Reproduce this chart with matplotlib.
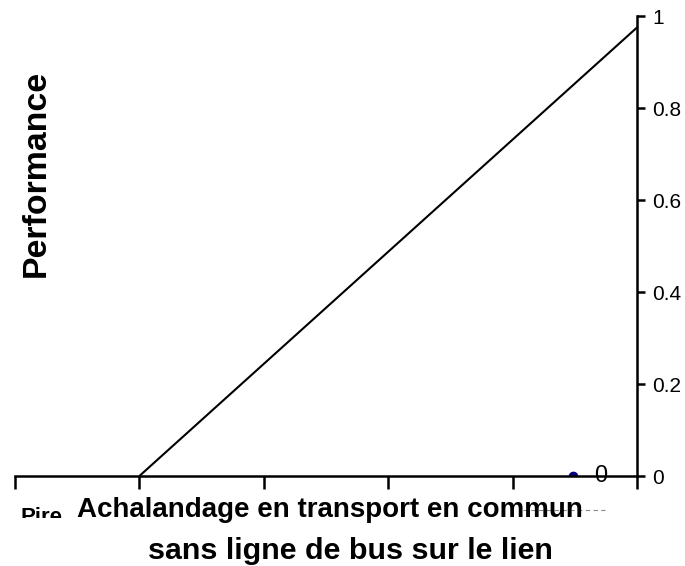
import matplotlib
matplotlib.use("Agg")
import matplotlib.pyplot as plt
from matplotlib.transforms import Bbox, TransformedBbox

# performance curve of the criterion
x_curve = [1, 5]
y_curve = [0, 0.975]

# isolated point shown on the axis
x_point = [4.485]
y_point = [0]
point_label = "0"

yticks = [0, 0.2, 0.4, 0.6, 0.8, 1]
ytick_labels = ["0", "0.2", "0.4", "0.6", "0.8", "1"]
xticks = [0, 1, 2, 3, 4, 5]

title_lines = ["Achalandage en transport en commun", "sans ligne de bus sur le lien"]
worst_label = "Pire"

plt.rcParams["font.family"] = ["Liberation Sans", "DejaVu Sans"]
narrow = ["Liberation Sans Narrow", "Liberation Sans", "DejaVu Sans"]

fig = plt.figure(figsize=(6.85, 5.66), dpi=100)
ax = fig.add_axes([15/685, 90/566, 622/685, 460/566])
renderer = fig.canvas.get_renderer()


def fit(txt, width, vertical=False):
    # shrink/grow font so the text spans the wanted number of pixels
    for _ in range(3):
        bb = txt.get_window_extent(renderer)
        span = bb.height if vertical else bb.width
        txt.set_fontsize(txt.get_fontsize() * width / span)


ax.plot(x_curve, y_curve, color="black", lw=1.5, solid_capstyle="butt")
ax.plot(x_point, y_point, "o", color="#000080", ms=6)
ax.text(x_point[0] + 0.17, 0, point_label, fontsize=17, ha="left", va="center")

ax.set_xlim(0, 5)
ax.set_ylim(0, 1)
ax.spines["top"].set_visible(False)
ax.spines["left"].set_visible(False)
for s in ("bottom", "right"):
    ax.spines[s].set_linewidth(1.8)

ax.set_xticks(xticks)
ax.set_xticklabels([])
ax.tick_params(axis="x", direction="out", length=9, width=1.8)
ax.yaxis.tick_right()
ax.set_yticks(yticks)
ax.set_yticklabels(ytick_labels)
ax.tick_params(axis="y", direction="out", length=6, width=1.8, labelsize=15, pad=5)

# gray dashed leader below the axis
ax.plot([4.08, 4.74], [-0.074, -0.074], color="#888888", lw=0.8,
        ls=(0, (4, 3)), clip_on=False)

perf = fig.text(36/685, 1 - 173/566, "Performance", fontsize=26,
                fontweight="bold", family=narrow, rotation=90,
                ha="center", va="center")
fit(perf, 207, vertical=True)

t1 = fig.text(330/685, 1 - 517/566, title_lines[0], fontsize=24,
              fontweight="bold", family=narrow, ha="center", va="baseline")
fit(t1, 505)
t2 = fig.text(350/685, 1 - 559/566, title_lines[1], fontsize=24,
              fontweight="bold", family=narrow, ha="center", va="baseline")
fit(t2, 404)

pire = fig.text(20/685, 1 - 523/566, worst_label, fontsize=17,
                fontweight="bold", family=narrow, ha="left", va="baseline")
fit(pire, 42)
pire.set_clip_box(TransformedBbox(Bbox([[0, 1 - 518/566], [1, 1]]),
                                  fig.transFigure))
pire.set_clip_on(True)

fig.savefig("out.png", dpi=100)
